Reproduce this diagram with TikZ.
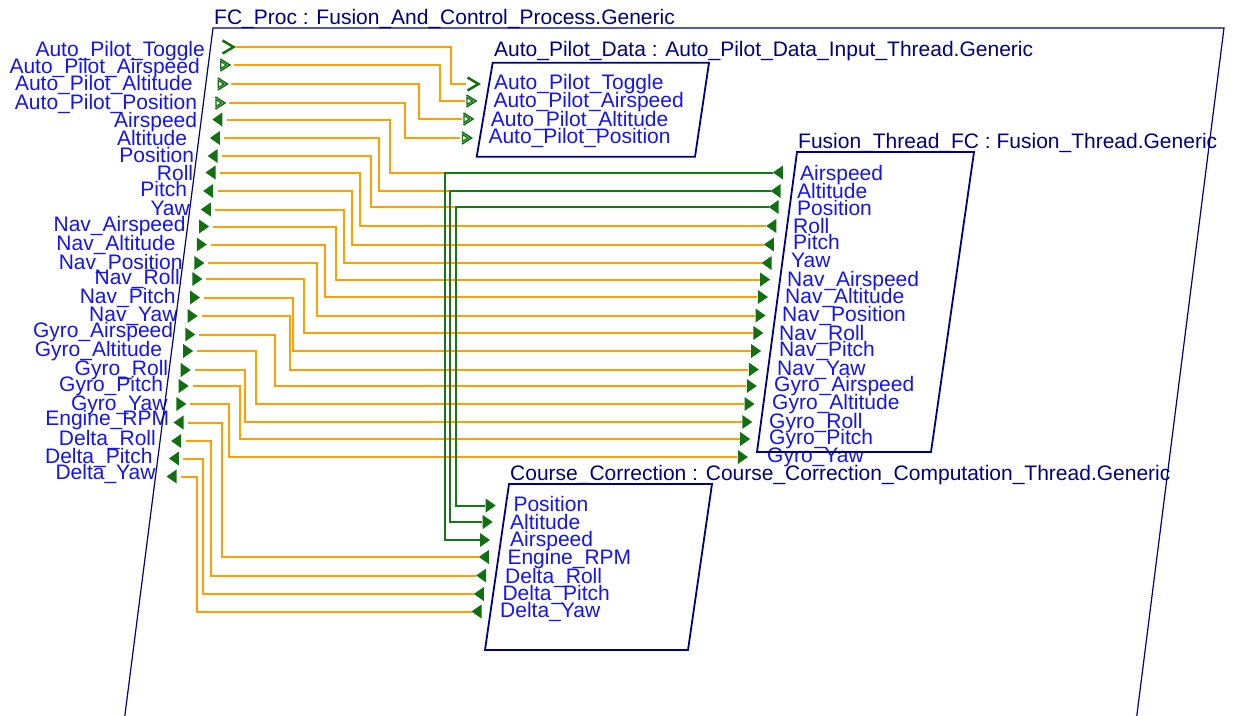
\documentclass[tikz,border=0pt]{standalone}
\usepackage{fontspec}
\setmainfont{Liberation Sans}
\usetikzlibrary{calc}
\definecolor{pgreen}{RGB}{18,112,18}
\definecolor{gwirec}{RGB}{20,120,20}
\definecolor{worange}{RGB}{255,160,0}
\definecolor{lblue}{RGB}{20,20,245}
\definecolor{tnavy}{RGB}{0,0,128}
\tikzset{
  owire/.style={draw=worange, line width=2pt},
  gwire/.style={draw=gwirec, line width=2pt},
  lbl/.style={text=lblue, inner sep=0pt, font=\fontsize{21}{21}\selectfont},
  ttl/.style={text=tnavy, inner sep=0pt, anchor=base west, font=\fontsize{21}{21}\selectfont},
  boxline/.style={draw=tnavy, line width=1.8pt, line join=miter},
}
\newcommand\wire[4][owire]{\draw[#1] (#2) -| (#3,0 |- #4) -- (#4);}
\newcommand\mktl[1]{\fill[pgreen] (#1) ++(-0.5,0) -- ++(10,-7) -- ++(0,14) -- cycle;}
\newcommand\mktr[1]{\fill[pgreen] (#1) ++(0,-7) -- ++(10,7) -- ++(-10,7) -- cycle;}
\newcommand\mkchev[1]{\draw[pgreen, line width=2.5pt] (#1) ++(0.5,-6.5) -- ++(11,6.5) -- ++(-11,6.5);}
\newcommand\mkevd[1]{\draw[pgreen, line width=1.6pt] (#1) ++(0.5,-6) -- ++(9.5,6) -- ++(-9.5,6);
  \draw[pgreen, line width=1.3pt] (#1) ++(1,-3.5) -- ++(5.5,3.5) -- ++(-5.5,3.5) -- cycle;}
\begin{document}
\begin{tikzpicture}[x=1pt,y=-1pt]
\fill[white] (0,0) rectangle (1234,715);
\useasboundingbox (0,0) rectangle (1234,715);

% ---------- ports of FC_Proc (left side) ----------
\foreach \n/\y/\p/\lx/\lb/\t in {
 LToggle/47/chev/205/56/Auto\_Pilot\_Toggle,
 LAPAirspeed/65/evd/200/73.3/Auto\_Pilot\_Airspeed,
 LAPAltitude/84/evd/192.7/90/Auto\_Pilot\_Altitude,
 LAPPosition/103/evd/197.3/109/Auto\_Pilot\_Position,
 LAirspeed/119.5/tl/197.3/127.7/Airspeed,
 LAltitude/138/tl/187.3/145.7/Altitude,
 LPosition/156/tl/194.3/162.3/Position,
 LRoll/172.5/tl/193.3/180/Roll,
 LPitch/191/tl/187.3/196.7/Pitch,
 LYaw/209.5/tl/190/215/Yaw,
 LNavAirspeed/226.5/tr/185.7/231.7/Nav\_Airspeed,
 LNavAltitude/244.5/tr/175.7/250.7/Nav\_Altitude,
 LNavPosition/263/tr/182.7/269/Nav\_Position,
 LNavRoll/279/tr/180/284.3/Nav\_Roll,
 LNavPitch/297.5/tr/175.7/303.3/Nav\_Pitch,
 LNavYaw/316/tr/177.7/321.7/Nav\_Yaw,
 LGyroAirspeed/334.5/tr/173.3/337.3/Gyro\_Airspeed,
 LGyroAltitude/351/tr/162.3/356/Gyro\_Altitude,
 LGyroRoll/370/tr/168.3/375/Gyro\_Roll,
 LGyroPitch/386/tr/163.3/391.7/Gyro\_Pitch,
 LGyroYaw/404/tr/167.7/410/Gyro\_Yaw,
 LEngineRPM/422.5/tl/169.3/425.7/Engine\_RPM,
 LDeltaRoll/441/tl/156/445/Delta\_Roll,
 LDeltaPitch/458.5/tl/152.7/463.3/Delta\_Pitch,
 LDeltaYaw/476.5/tl/155.7/479.3/Delta\_Yaw}
{
 \pgfmathsetmacro\mx{213-0.128*(\y-28)+11.5}
 \coordinate (\n) at ({\mx+14},\y);
 \coordinate (\n-m) at (\mx,\y);
 \node[lbl, anchor=base east] (\n-lbl) at (\lx,\lb) {\t};
}

% ---------- ports of Auto_Pilot_Data ----------
\foreach \n/\y/\mx/\lx/\lb/\t in {
 AToggle/84/467/494/89.3/Auto\_Pilot\_Toggle,
 AAirspeed/101/466/493.3/107.3/Auto\_Pilot\_Airspeed,
 AAltitude/119/463/490.7/126.7/Auto\_Pilot\_Altitude,
 APosition/138/461.5/488.3/143.3/Auto\_Pilot\_Position}
{
 \coordinate (\n) at ({\mx-1.5},\y);
 \coordinate (\n-m) at (\mx,\y);
 \node[lbl, anchor=base west] (\n-lbl) at (\lx,\lb) {\t};
}

% ---------- ports of Fusion_Thread_FC ----------
\foreach \n/\y/\lx/\lb/\t in {
 FAirspeed/172.5/800/180/Airspeed,
 FAltitude/191/797/198.3/Altitude,
 FPosition/207/797/215/Position,
 FRoll/226/793/233.3/Roll,
 FPitch/244.5/793/249.3/Pitch,
 FYaw/263/791/267.7/Yaw,
 FNavAirspeed/279.5/787/286.7/Nav\_Airspeed,
 FNavAltitude/297/785/303.3/Nav\_Altitude,
 FNavPosition/315.5/782/321.7/Nav\_Position,
 FNavRoll/333/779/340/Nav\_Roll,
 FNavPitch/351/779/356.7/Nav\_Pitch,
 FNavYaw/369.5/777/375/Nav\_Yaw,
 FGyroAirspeed/386/774/391/Gyro\_Airspeed,
 FGyroAltitude/404/772/409.3/Gyro\_Altitude,
 FGyroRoll/422/769/428.3/Gyro\_Roll,
 FGyroPitch/439/769/444/Gyro\_Pitch,
 FGyroYaw/457/767/462.7/Gyro\_Yaw}
{
 \pgfmathsetmacro\mx{776-0.125*(\y-152)}
 \coordinate (\n) at ({\mx-0.5},\y);
 \coordinate (\n-m) at (\mx,\y);
 \node[lbl, anchor=base west] (\n-lbl) at (\lx,\lb) {\t};
}

% ---------- ports of Course_Correction ----------
\foreach \n/\y/\mx/\lx/\lb/\t in {
 CPosition/505.5/485.7/513.3/511.7/Position,
 CAltitude/522/482.7/510/529/Altitude,
 CAirspeed/540/480/510/546.7/Airspeed,
 CEngineRPM/557/479.3/507.3/564.3/Engine\_RPM,
 CDeltaRoll/575.5/476.7/505/583.3/Delta\_Roll,
 CDeltaPitch/594/474.3/502.3/600/Delta\_Pitch,
 CDeltaYaw/611.5/472/500/617.3/Delta\_Yaw}
{
 \coordinate (\n) at ({\mx-0.5},\y);
 \coordinate (\n-m) at (\mx,\y);
 \node[lbl, anchor=base west] (\n-lbl) at (\lx,\lb) {\t};
}

% ---------- orange connectors ----------
\wire{LToggle}{451}{AToggle}
\wire{LAPAirspeed}{440}{AAirspeed}
\wire{LAPAltitude}{419}{AAltitude}
\wire{LAPPosition}{405}{APosition}
\wire{LAirspeed}{390}{FAirspeed}
\wire{LAltitude}{379}{FAltitude}
\wire{LPosition}{371}{FPosition}
\wire{LRoll}{360}{FRoll}
\wire{LPitch}{352}{FPitch}
\wire{LYaw}{344}{FYaw}
\wire{LNavAirspeed}{336}{FNavAirspeed}
\wire{LNavAltitude}{325}{FNavAltitude}
\wire{LNavPosition}{317}{FNavPosition}
\wire{LNavRoll}{304}{FNavRoll}
\wire{LNavPitch}{293}{FNavPitch}
\wire{LNavYaw}{290}{FNavYaw}
\wire{LGyroAirspeed}{275}{FGyroAirspeed}
\wire{LGyroAltitude}{256}{FGyroAltitude}
\wire{LGyroRoll}{245}{FGyroRoll}
\wire{LGyroPitch}{240}{FGyroPitch}
\wire{LGyroYaw}{229}{FGyroYaw}
\wire{LEngineRPM}{221.7}{CEngineRPM}
\wire{LDeltaRoll}{211}{CDeltaRoll}
\wire{LDeltaPitch}{202.7}{CDeltaPitch}
\wire{LDeltaYaw}{197}{CDeltaYaw}

% ---------- green connectors ----------
\wire[gwire]{FAirspeed}{445}{CAirspeed}
\wire[gwire]{FAltitude}{450}{CAltitude}
\wire[gwire]{FPosition}{455.5}{CPosition}

% ---------- port markers ----------
\mkchev{LToggle-m}
\foreach \n in {LAPAirspeed,LAPAltitude,LAPPosition,AAirspeed,AAltitude,APosition} {\mkevd{\n-m}}
\mkchev{AToggle-m}
\foreach \n in {LAirspeed,LAltitude,LPosition,LRoll,LPitch,LYaw,LEngineRPM,LDeltaRoll,LDeltaPitch,LDeltaYaw,
  FAirspeed,FAltitude,FPosition,FRoll,FPitch,FYaw,CEngineRPM,CDeltaRoll,CDeltaPitch,CDeltaYaw} {\mktl{\n-m}}
\foreach \n in {LNavAirspeed,LNavAltitude,LNavPosition,LNavRoll,LNavPitch,LNavYaw,
  LGyroAirspeed,LGyroAltitude,LGyroRoll,LGyroPitch,LGyroYaw,
  FNavAirspeed,FNavAltitude,FNavPosition,FNavRoll,FNavPitch,FNavYaw,
  FGyroAirspeed,FGyroAltitude,FGyroRoll,FGyroPitch,FGyroYaw,
  CPosition,CAltitude,CAirspeed} {\mktr{\n-m}}

% ---------- component boxes ----------
\draw[draw=tnavy, line width=1.2pt] (213,28) -- (1224,28) -- (1135,730) -- (123,730) -- cycle;
\draw[boxline] (492.7,62.7) -- (709,62.7) -- (695,156.7) -- (476.7,156.7) -- cycle;
\draw[boxline] (797,152) -- (974,152) -- (931,452) -- (757,452) -- cycle;
\draw[boxline] (509,484) -- (712,484) -- (688,650) -- (485,650) -- cycle;

% ---------- titles ----------
\node[ttl] (fcproc) at (214,24) {FC\_Proc : Fusion\_And\_Control\_Process.Generic};
\node[ttl] (apdata) at (494,56.7) {Auto\_Pilot\_Data : Auto\_Pilot\_Data\_Input\_Thread.Generic};
\node[ttl] (fusion) at (798,148.3) {Fusion\_Thread\_FC : Fusion\_Thread.Generic};
\node[ttl] (course) at (510,480) {Course\_Correction : Course\_Correction\_Computation\_Thread.Generic};
\end{tikzpicture}
\end{document}
